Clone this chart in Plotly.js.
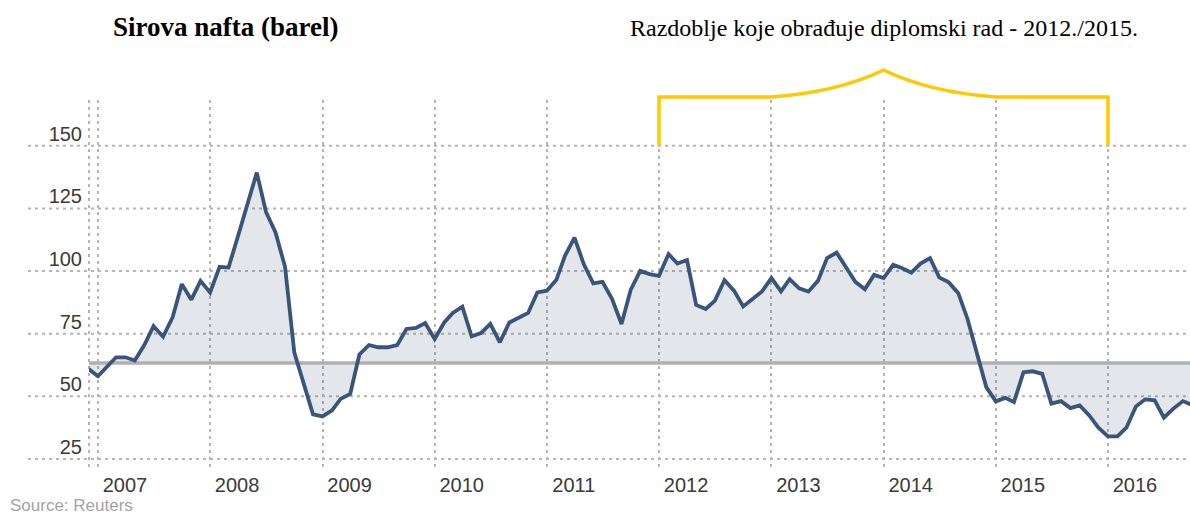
<!DOCTYPE html>
<html>
<head>
<meta charset="utf-8">
<script src="https://cdn.plot.ly/plotly-3.0.1.min.js"></script>
<style>
html,body{margin:0;padding:0;background:#fff;}
#chart{width:1190px;height:518px;}
</style>
</head>
<body>
<div id="chart"></div>
<script>
// Monthly crude oil price (USD per barrel)
const firstYear = 2006;
const firstMonth = 12;
const price2006 = [61.0];
const price2007 = [58.0, 62.0, 65.6, 65.6, 64.3, 70.5, 78.0, 73.8, 81.5, 94.8, 88.6, 96.1];
const price2008 = [91.5, 101.7, 101.4, 114.0, 127.0, 139.3, 123.6, 115.4, 101.7, 67.6, 55.0, 42.8];
const price2009 = [42.0, 44.4, 49.0, 51.0, 66.7, 70.5, 69.6, 69.6, 70.5, 76.9, 77.3, 79.3];
const price2010 = [72.9, 79.5, 83.3, 85.8, 74.0, 75.3, 78.9, 71.6, 79.5, 81.3, 83.3, 91.5];
const price2011 = [92.2, 96.5, 106.1, 113.4, 102.8, 95.1, 95.7, 88.9, 78.9, 92.6, 100.1, 98.8];
const price2012 = [98.1, 106.8, 103.0, 104.4, 86.5, 84.9, 88.2, 96.4, 92.2, 85.9, 89.2, 91.9];
const price2013 = [97.2, 91.9, 96.8, 93.1, 91.8, 96.1, 105.2, 107.4, 101.4, 95.7, 92.8, 98.5];
const price2014 = [97.2, 102.5, 101.2, 99.4, 103.0, 105.2, 97.5, 95.5, 91.2, 80.9, 67.0, 53.7];
const price2015 = [48.0, 49.4, 47.7, 59.6, 60.0, 59.0, 47.1, 48.1, 45.3, 46.4, 42.4, 37.5];
const price2016 = [34.0, 34.0, 37.5, 46.0, 48.8, 48.4, 41.5, 45.1, 48.1, 46.5];

const baselineValue = 63.3;
const yTicks = [25, 50, 75, 100, 125, 150];
const yearLabels = ['2007', '2008', '2009', '2010', '2011', '2012', '2013', '2014', '2015', '2016'];
const periodStart = '2012-01-01';
const periodEnd = '2016-01-01';

const titleText = 'Sirova nafta (barel)';
const subtitleText = 'Razdoblje koje obrađuje diplomski rad - 2012./2015.';
const sourceText = 'Source: Reuters';

// build the monthly series
const prices = [].concat(price2006, price2007, price2008, price2009, price2010,
  price2011, price2012, price2013, price2014, price2015, price2016);
const dates = [];
let yy = firstYear, mm = firstMonth;
for (let i = 0; i < prices.length; i++) {
  dates.push(yy + '-' + String(mm).padStart(2, '0') + '-01');
  mm++; if (mm > 12) { mm = 1; yy++; }
}
const baseline = dates.map(() => baselineValue);

const yRange = [21.8, 168.3];
const toPaperY = v => (v - yRange[0]) / (yRange[1] - yRange[0]);

const gridColor = '#b5b5b5';
const gridDash = '3px,4px';

const shapes = [];
// horizontal gridlines, extending under the tick labels
yTicks.forEach(v => {
  shapes.push({type: 'line', xref: 'paper', yref: 'y', x0: -0.0554, x1: 1, y0: v, y1: v,
    line: {color: gridColor, width: 2, dash: gridDash}, layer: 'below'});
});
// left edge dotted line
shapes.push({type: 'line', xref: 'paper', yref: 'paper', x0: 0, x1: 0, y0: 0, y1: 1,
  line: {color: gridColor, width: 2, dash: gridDash}, layer: 'below'});

// yellow bracket marking the studied period
const yb = toPaperY(150).toFixed(4);
const yt = 1.0082, yp = 1.0817;
const y1c = (yt + 0.12 * (yp - yt)).toFixed(4), y2c = (yt + 0.5 * (yp - yt)).toFixed(4);
const bracketPath =
  'M' + periodStart + ',' + yb +
  ' L' + periodStart + ',' + yt +
  ' L2013-01-01,' + yt +
  ' C2013-05-27,' + y1c + ' 2013-10-02,' + y2c + ' 2014-01-01,' + yp +
  ' C2014-04-01,' + y2c + ' 2014-08-07,' + y1c + ' 2015-01-01,' + yt +
  ' L' + periodEnd + ',' + yt +
  ' L' + periodEnd + ',' + yb;
shapes.push({type: 'path', xref: 'x', yref: 'paper', path: bracketPath,
  line: {color: '#ffc800', width: 3.5}, layer: 'above'});

const traces = [
  {x: dates, y: baseline, type: 'scatter', mode: 'lines',
   line: {color: '#b0b0b2', width: 3.5}, hoverinfo: 'skip'},
  {x: dates, y: prices, type: 'scatter', mode: 'lines', fill: 'tonexty',
   fillcolor: 'rgba(58,85,121,0.14)',
   line: {color: '#3a5579', width: 3.8}, hoverinfo: 'skip'}
];

const tickFont = {family: 'Liberation Sans, Arial, sans-serif', size: 20, color: '#3a3a3a'};

const layout = {
  width: 1190, height: 518,
  margin: {l: 89, r: 0, t: 100, b: 51},
  paper_bgcolor: '#fff', plot_bgcolor: '#fff',
  showlegend: false,
  title: {text: '<b>' + titleText + '</b>',
    font: {family: 'Liberation Serif, Times New Roman, serif', size: 27, color: '#000'},
    xref: 'container', yref: 'container', x: 113 / 1190, xanchor: 'left',
    y: 1 - 27 / 518, yanchor: 'middle'},
  xaxis: {
    type: 'date', range: ['2006-12-03', '2016-09-24'],
    tickvals: yearLabels.map(y => y + '-01-01'), ticktext: yearLabels,
    showgrid: true, gridcolor: gridColor, gridwidth: 2, griddash: gridDash,
    zeroline: false, showline: false, ticks: '',
    tickfont: tickFont, ticklabelshift: 27, ticklabelstandoff: 4
  },
  yaxis: {
    range: yRange, tickvals: yTicks, ticktext: yTicks.map(String),
    showgrid: false, zeroline: false, showline: false, ticks: '',
    tickfont: tickFont, ticklabelshift: -12, ticklabelstandoff: 6
  },
  shapes: shapes,
  annotations: [
    {text: subtitleText, xref: 'paper', yref: 'paper',
     x: (628 - 89) / 1101, xanchor: 'left', y: (467 - 28) / 367, yanchor: 'middle',
     showarrow: false,
     font: {family: 'Liberation Serif, Times New Roman, serif', size: 24, color: '#000'}},
    {text: sourceText, xref: 'paper', yref: 'paper',
     x: (8 - 89) / 1101, xanchor: 'left', y: (467 - 506) / 367, yanchor: 'middle',
     showarrow: false,
     font: {family: 'Liberation Sans, Arial, sans-serif', size: 17, color: '#a3a3a3'}}
  ]
};

Plotly.newPlot('chart', traces, layout, {staticPlot: true, displayModeBar: false});
</script>
</body>
</html>
